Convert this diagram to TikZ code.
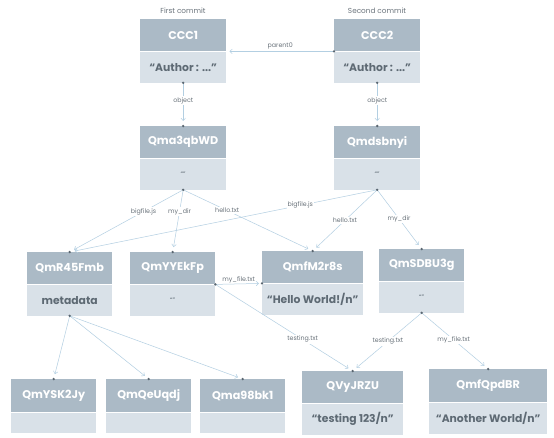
\documentclass[tikz,border=0pt]{standalone}
\usepackage{fontspec}
\setmainfont{Poppins}
\usetikzlibrary{arrows.meta}
\definecolor{hdrc}{HTML}{ABBAC6}
\definecolor{bodc}{HTML}{D9E1E8}
\definecolor{txtc}{HTML}{5E6A74}
\definecolor{edgec}{HTML}{B3CFE2}
\definecolor{lblc}{HTML}{6A737B}
\definecolor{dotc}{HTML}{5A6670}
\begin{document}
\begin{tikzpicture}[x=1pt,y=-1pt,
  hdr/.style={fill=hdrc, inner sep=0pt, anchor=north west, minimum height=32pt, text=white, font=\bfseries\fontsize{11.2}{13}\selectfont},
  bod/.style={fill=bodc, inner sep=0pt, anchor=north, minimum height=31pt, text=txtc, font=\bfseries\fontsize{10.8}{13}\selectfont},
  smallq/.style={font=\fontsize{6.5}{7}\selectfont},
  edge/.style={draw=edgec, line width=0.5pt, -{Straight Barb[length=2.5pt,width=4.5pt]}, shorten >=5pt},
  lbl/.style={fill=white, inner sep=1pt, text=lblc, font=\fontsize{6.3}{7}\selectfont},
  captxt/.style={text=lblc, font=\fontsize{7.3}{8}\selectfont},
  dotm/.style={fill=dotc}
]
\path[use as bounding box, fill=white] (0,0) rectangle (554,437);

% captions
\node[captxt] (cap1) at (183,11) {First commit};
\node[captxt] (cap2) at (377,11) {Second commit};

% commits
\node[hdr, minimum width=86pt] (c1) at (140,19) {CCC1};
\node[bod, minimum width=86pt] (c1b) at (c1.south) {“Author : ...”};
\node[hdr, minimum width=86pt] (c2) at (334,19) {CCC2};
\node[bod, minimum width=86pt] (c2b) at (c2.south) {“Author : ...”};

% trees
\node[hdr, minimum width=86pt] (qa) at (140,126) {Qma3qbWD};
\node[bod, minimum width=86pt, smallq] (qab) at (qa.south) {“”};
\node[hdr, minimum width=86pt] (qd) at (334,126) {Qmdsbnyi};
\node[bod, minimum width=86pt, smallq] (qdb) at (qd.south) {“”};

% middle row
\node[hdr, minimum width=85pt] (r45) at (27,252) {QmR45Fmb};
\node[bod, minimum width=85pt] (r45b) at (r45.south) {metadata};
\node[hdr, minimum width=85pt] (yy) at (130,252) {QmYYEkFp};
\node[bod, minimum width=85pt, smallq] (yyb) at (yy.south) {“”};
\node[hdr, minimum width=101pt] (m2) at (262,251) {QmfM2r8s};
\node[bod, minimum width=101pt] (m2b) at (m2.south) {“Hello World!/n”};
\node[hdr, minimum width=85pt] (sd) at (379,249) {QmSDBU3g};
\node[bod, minimum width=85pt, smallq] (sdb) at (sd.south) {“”};

% bottom row
\node[hdr, minimum width=85pt, minimum height=33pt] (y5) at (11,379) {QmYSK2Jy};
\node[bod, minimum width=85pt, minimum height=20pt] (y5b) at (y5.south) {};
\node[hdr, minimum width=85pt, minimum height=33pt] (qe) at (106,379) {QmQeUqdj};
\node[bod, minimum width=85pt, minimum height=20pt] (qeb) at (qe.south) {};
\node[hdr, minimum width=85pt, minimum height=33pt] (q9) at (200,379) {Qma98bk1};
\node[bod, minimum width=85pt, minimum height=20pt] (q9b) at (q9.south) {};
\node[hdr, minimum width=101pt] (vy) at (302,371) {QVyJRZU};
\node[bod, minimum width=101pt] (vyb) at (vy.south) {“testing 123/n”};
\node[hdr, minimum width=118pt, minimum height=33pt] (fq) at (429,369) {QmfQpdBR};
\node[bod, minimum width=118pt] (fqb) at (fq.south) {“Another World/n”};

% connectors
\draw[edge, shorten >=3pt] (c2.south west) -- node[lbl, above=1pt, fill=none] {parent0} (c1.south east);
\draw[edge] (c1b.south) -- node[lbl, pos=.41] {object} (qa.north);
\draw[edge] (c2b.south) -- node[lbl, pos=.41] {object} (qd.north);

\draw[edge] (qdb.south) -- node[lbl, pos=.25] {bigfile.js} (r45.north);
\draw[edge] (qab.south) -- node[lbl, pos=.35] {bigfile.js} (r45.north);
\draw[edge] (qab.south) -- node[lbl, pos=.35] {my\_dir} (yy.north);
\draw[edge] (qab.south) -- node[lbl, pos=.34] {hello.txt} (m2.north);
\draw[edge] (qdb.south) -- node[lbl, pos=.5] {hello.txt} (m2.north);
\draw[edge] (qdb.south) -- node[lbl, pos=.49] {my\_dir} (sd.north);

\draw[edge, shorten >=3pt] (yy.south east) -- node[lbl, above=0pt, fill=none] {my\_file.txt} (m2.south west);
\draw[edge] (yy.south east) -- node[lbl, pos=.635] {testing.txt} (vy.north);
\draw[edge] (sdb.south) -- node[lbl, pos=.49] {testing.txt} (vy.north);
\draw[edge] (sdb.south) -- node[lbl, pos=.48] {my\_file.txt} (fq.north);

\draw[edge] (r45b.south) -- (y5.north);
\draw[edge] (r45b.south) -- (qe.north);
\draw[edge] (r45b.south) -- (q9.north);

% dots
\foreach \p in {c2.south west, c1b.south, c2b.south, qa.north, qd.north, qab.south, qdb.south,
  r45.north, yy.north, m2.north, sd.north, yy.south east, m2.south west, sdb.south, vy.north, fq.north,
  r45b.south, y5.north, qe.north, q9.north}
  \fill[dotm] (\p) circle (1.3pt);
\end{tikzpicture}
\end{document}
